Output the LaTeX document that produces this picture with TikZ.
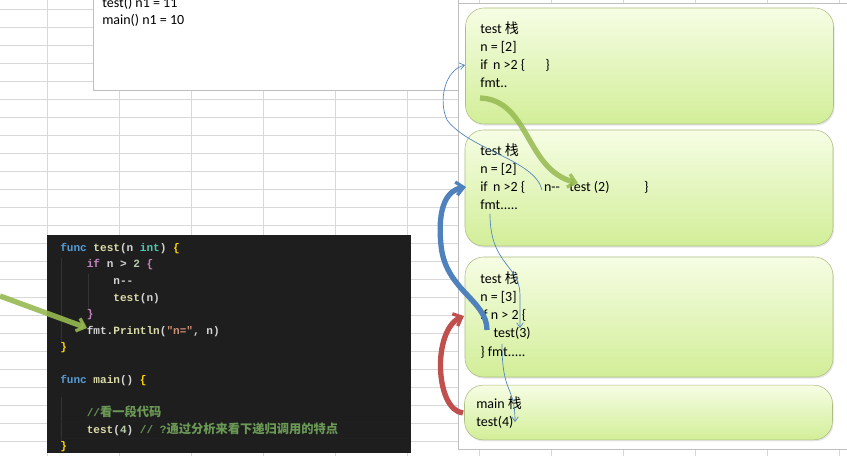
\documentclass[tikz,border=0pt]{standalone}
\usepackage{fontspec}
\usepackage{xcolor}
\setmainfont{Carlito}
\setmonofont{Liberation Mono}
\newfontfamily\cjk{Noto Sans CJK SC}
\usetikzlibrary{arrows.meta,shadows}

\definecolor{gridgray}{RGB}{216,216,216}
\definecolor{panelline}{RGB}{190,190,190}
\definecolor{codebg}{RGB}{30,30,30}
\definecolor{codefg}{RGB}{212,212,212}
\definecolor{kwblue}{RGB}{86,156,214}
\definecolor{fnyellow}{RGB}{220,220,170}
\definecolor{typeteal}{RGB}{78,201,176}
\definecolor{kwpink}{RGB}{197,134,192}
\definecolor{strorange}{RGB}{206,145,120}
\definecolor{cmtgreen}{RGB}{106,153,85}
\definecolor{numgreen}{RGB}{181,206,168}
\definecolor{bracegold}{RGB}{255,215,0}
\definecolor{boxtop}{RGB}{246,253,228}
\definecolor{boxbot}{RGB}{210,238,152}
\definecolor{boxline}{RGB}{172,190,130}
\definecolor{arrgreen}{RGB}{150,185,80}
\definecolor{arrblue}{RGB}{79,129,189}
\definecolor{arrred}{RGB}{192,80,77}

\tikzset{
  stackbox/.style={draw=boxline, rounded corners=14pt, top color=boxtop, bottom color=boxbot,
    minimum width=276pt, drop shadow={opacity=0.2, shadow xshift=0.8pt, shadow yshift=-1.2pt}},
  stacktext/.style={anchor=north west, inner sep=0pt, align=left,
    font=\fontsize{10.5}{13.7}\selectfont},
  codetext/.style={anchor=north west, inner sep=0pt, align=left, text=codefg,
    font=\fontsize{8.3}{12.4}\selectfont\ttfamily\bfseries},
  fatarrow/.style={line width=4pt, -{Straight Barb[length=5.5pt, width=10pt, line width=2.5pt]}},
  thinarrow/.style={arrblue, line width=0.5pt, -{Straight Barb[length=3.5pt, width=5pt]}}
}
\newcommand{\zhan}{{\cjk 栈}}

\begin{document}
\begin{tikzpicture}[x=0.75pt, y=-0.75pt]
\useasboundingbox (0,0) rectangle (847,456);
% sheet grid
\foreach \gy in {9,27,...,455}
    \draw[gridgray, line width=0.5pt] (0,\gy) -- (847,\gy);
\foreach \gx in {47,119,...,847}
    \draw[gridgray, line width=0.5pt] (\gx,0) -- (\gx,456);
% white panels
\draw[panelline, fill=white, line width=0.5pt] (93,-2) rectangle (458,90);
\draw[panelline, fill=white, line width=0.5pt] (458,3) rectangle (849,449);
\node[stacktext, anchor=base west] (out1) at (102,8) {test() n1 = 11};
\node[stacktext, anchor=base west] (out2) at (102,25) {main() n1 = 10};

% code panel
\fill[codebg] (47,235) rectangle (411,453);
\draw[gray!40!black, line width=0.5pt] (61,258) -- (61,342) (88,274) -- (88,310) (61,397) -- (61,442);
\draw[gray!25!black, line width=0.5pt] (60,421) rectangle (410,438);
\node[codetext] (code) at (60,243) {%
{\color{kwblue}func} {\color{fnyellow}test}({\color{codefg}n} {\color{typeteal}int}) {\color{bracegold}\{}\\
\hspace*{2.4em}{\color{kwpink}if} n > {\color{numgreen}2} {\color{kwpink}\{}\\
\hspace*{4.8em}n-{}-\\
\hspace*{4.8em}{\color{fnyellow}test}(n)\\
\hspace*{2.4em}{\color{kwpink}\}}\\
\hspace*{2.4em}fmt.{\color{fnyellow}Println}({\color{strorange}"n="}, n)\\
{\color{bracegold}\}}\\
\mbox{}\\
{\color{kwblue}func} {\color{fnyellow}main}() {\color{bracegold}\{}\\
\mbox{}\\
\hspace*{2.4em}{\color{cmtgreen}//\fontsize{9.2}{12.4}\selectfont\cjk\itshape 看一段代码}\\
\hspace*{2.4em}{\color{fnyellow}test}({\color{numgreen}4}) {\color{cmtgreen}// ?{\fontsize{9.2}{12.4}\selectfont\cjk 通过分析来看下递归调用的特点}}\\
{\color{bracegold}\}}};

% stack frames
\node[stackbox, minimum height=87pt] (frame1) at (649.5,66) {};
\node[stackbox, minimum height=87pt] (frame2) at (649,188) {};
\node[stackbox, minimum height=90pt] (frame3) at (649,317) {};
\node[stackbox, minimum height=41pt] (frame4) at (648.5,412.5) {};
\node[stacktext] (text1) at (480,21) {test \zhan\\ n = [2]\\ if\, n >2 \{\hspace{15pt}\}\\ fmt..};
\node[stacktext] (text2) at (480,143) {test \zhan\\ n = [2]\\ if\, n >2 \{\hspace{14pt}n-{}-\hspace{7pt}test (2)\hspace{26pt}\}\\ fmt.....};
\node[stacktext] (text3) at (480,271) {test \zhan\\ n = [3]\\ if n > 2 \{\\ \hspace*{10pt}test(3)\\ \} fmt.....};
\node[stacktext] (text4) at (476,396) {main \zhan\\ test(4)};

% arrow ends
\coordinate (fmtA) at (0,296);
\coordinate (fmtB) at (87,328);
\coordinate (retA) at (480,98);
\coordinate (retB) at (578,183);
\coordinate (callA) at (487,330);
\coordinate (callB) at (466,187);
\coordinate (mainA) at (463,413);
\coordinate (mainB) at (464,316);
\coordinate (nA) at (542,190);
\coordinate (nB) at (465,65);
\coordinate (f2A) at (490,214);
\coordinate (f2B) at (520,328);
\coordinate (f3A) at (502,344);
\coordinate (f3B) at (515,422);

% arrows
\draw[fatarrow, arrgreen, opacity=0.9] (fmtA) -- (fmtB);
\draw[fatarrow, arrgreen, opacity=0.85] (retA) .. controls (530,100) and (525,170) .. (retB);
\draw[fatarrow, arrblue] (callA) .. controls (487,300) and (445,290) .. (441,245)
    .. controls (437,205) and (448,190) .. (callB);
\draw[fatarrow, arrred] (mainA) .. controls (435,410) and (432,330) .. (mainB);
\draw[thinarrow] (nA) .. controls (535,160) and (470,150) .. (447,120)
    .. controls (438,100) and (445,70) .. (nB);
\draw[thinarrow] (f2A) .. controls (490,265) and (520,265) .. (520,295) -- (f2B);
\draw[thinarrow] (f3A) .. controls (502,395) and (515,385) .. (f3B);
\end{tikzpicture}
\end{document}
